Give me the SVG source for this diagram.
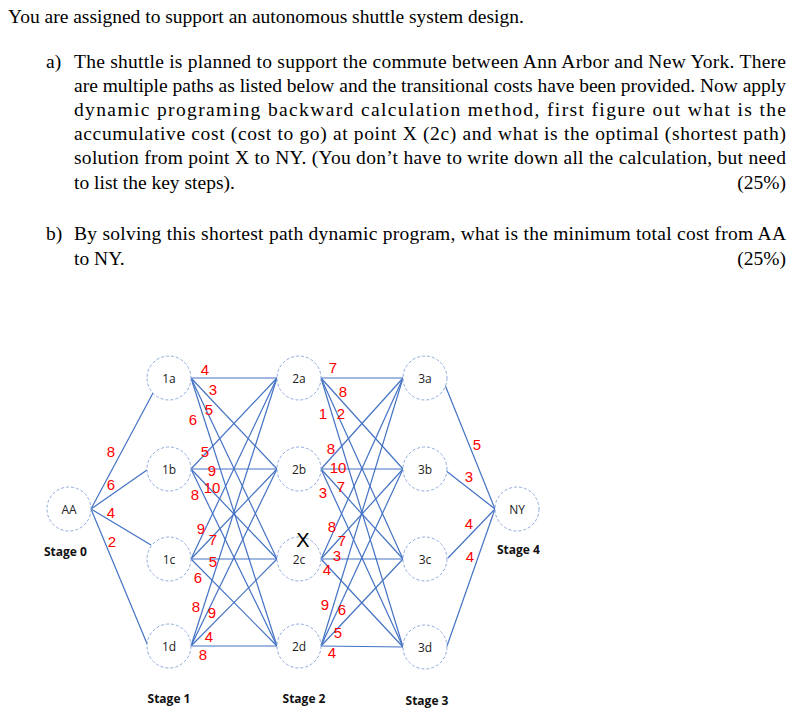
<svg xmlns="http://www.w3.org/2000/svg" width="793" height="716" viewBox="0 0 793 716">
<style>
.t{font-family:"Liberation Serif",serif;font-size:19.5px;fill:#000}
.n circle{fill:#fff;stroke:#8faadc;stroke-width:1;stroke-dasharray:3 2}
.n text{font-family:"Open Sans","DejaVu Sans",sans-serif;font-size:12px;fill:#222;text-anchor:middle}
.e line{stroke:#4472c4;stroke-width:1.2}
.w{font-family:"Liberation Sans",sans-serif;font-size:15px;fill:#ff0000;text-anchor:middle}
.s{font-family:"Open Sans","DejaVu Sans",sans-serif;font-size:12px;font-weight:bold;fill:#111}
</style>
<rect width="793" height="716" fill="#fff"/>
<text class="t" x="8" y="23">You are assigned to support an autonomous shuttle system design.</text>
<text class="t" x="46" y="68">a)</text>
<text class="t" x="74" y="68" textLength="712" lengthAdjust="spacing">The shuttle is planned to support the commute between Ann Arbor and New York. There</text>
<text class="t" x="74" y="92" textLength="712" lengthAdjust="spacing">are multiple paths as listed below and the transitional costs have been provided. Now apply</text>
<text class="t" x="74" y="116" textLength="712" lengthAdjust="spacing">dynamic programing backward calculation method, first figure out what is the</text>
<text class="t" x="74" y="140" textLength="712" lengthAdjust="spacing">accumulative cost (cost to go) at point X (2c) and what is the optimal (shortest path)</text>
<text class="t" x="74" y="164" textLength="712" lengthAdjust="spacing">solution from point X to NY. (You don’t have to write down all the calculation, but need</text>
<text class="t" x="74" y="189">to list the key steps).</text>
<text class="t" x="786" y="189" text-anchor="end">(25%)</text>
<text class="t" x="46" y="240">b)</text>
<text class="t" x="74" y="240" textLength="712" lengthAdjust="spacing">By solving this shortest path dynamic program, what is the minimum total cost from AA</text>
<text class="t" x="74" y="265">to NY.</text>
<text class="t" x="786" y="265" text-anchor="end">(25%)</text>
<g id="connectors" class="e">
<line x1="91" y1="509" x2="153" y2="393"/><line x1="91" y1="509" x2="147" y2="470"/>
<line x1="91" y1="509" x2="151" y2="545"/><line x1="91" y1="509" x2="148" y2="646"/>
<g id="s12">
<line x1="191" y1="378" x2="277" y2="378"/><line x1="191" y1="378" x2="277" y2="469"/><line x1="191" y1="378" x2="277" y2="559"/><line x1="191" y1="378" x2="277" y2="646"/>
<line x1="191" y1="469" x2="277" y2="378"/><line x1="191" y1="469" x2="277" y2="469"/><line x1="191" y1="469" x2="277" y2="559"/><line x1="191" y1="469" x2="277" y2="646"/>
<line x1="191" y1="559" x2="277" y2="378"/><line x1="191" y1="559" x2="277" y2="469"/><line x1="191" y1="559" x2="277" y2="559"/><line x1="191" y1="559" x2="277" y2="646"/>
<line x1="191" y1="646" x2="277" y2="378"/><line x1="191" y1="646" x2="277" y2="469"/><line x1="191" y1="646" x2="277" y2="559"/><line x1="191" y1="646" x2="277" y2="646"/>
</g>
<g id="s23">
<line x1="321" y1="378" x2="403" y2="378"/><line x1="321" y1="378" x2="403" y2="469"/><line x1="321" y1="378" x2="403" y2="559"/><line x1="321" y1="378" x2="403" y2="647"/>
<line x1="321" y1="469" x2="403" y2="378"/><line x1="321" y1="469" x2="403" y2="469"/><line x1="321" y1="469" x2="403" y2="559"/><line x1="321" y1="469" x2="403" y2="647"/>
<line x1="321" y1="559" x2="403" y2="378"/><line x1="321" y1="559" x2="403" y2="469"/><line x1="321" y1="559" x2="403" y2="559"/><line x1="321" y1="559" x2="403" y2="647"/>
<line x1="321" y1="646" x2="403" y2="378"/><line x1="321" y1="646" x2="403" y2="469"/><line x1="321" y1="646" x2="403" y2="559"/><line x1="321" y1="646" x2="403" y2="647"/>
</g>
<line x1="443" y1="380" x2="495" y2="509"/><line x1="445" y1="470" x2="495" y2="509"/>
<line x1="448" y1="558" x2="495" y2="509"/><line x1="447" y1="646" x2="495" y2="509"/>
</g>
<g id="AA" class="n"><circle cx="69" cy="509" r="22"/><text x="69" y="514">AA</text></g>
<g id="n1a" class="n"><circle cx="169" cy="378" r="22"/><text x="169" y="383">1a</text></g>
<g id="n1b" class="n"><circle cx="169" cy="469" r="22"/><text x="169" y="474">1b</text></g>
<g id="n1c" class="n"><circle cx="169" cy="559" r="22"/><text x="169" y="564">1c</text></g>
<g id="n1d" class="n"><circle cx="169" cy="646" r="22"/><text x="169" y="651">1d</text></g>
<g id="n2a" class="n"><circle cx="299" cy="378" r="22"/><text x="299" y="383">2a</text></g>
<g id="n2b" class="n"><circle cx="299" cy="469" r="22"/><text x="299" y="474">2b</text></g>
<g id="n2c" class="n"><circle cx="299" cy="559" r="22"/><text x="299" y="564">2c</text></g>
<g id="n2d" class="n"><circle cx="299" cy="646" r="22"/><text x="299" y="651">2d</text></g>
<g id="n3a" class="n"><circle cx="425" cy="378" r="22"/><text x="425" y="383">3a</text></g>
<g id="n3b" class="n"><circle cx="425" cy="469" r="22"/><text x="425" y="474">3b</text></g>
<g id="n3c" class="n"><circle cx="425" cy="559" r="22"/><text x="425" y="564">3c</text></g>
<g id="n3d" class="n"><circle cx="425" cy="647" r="22"/><text x="425" y="652">3d</text></g>
<g id="NY" class="n"><circle cx="517" cy="509" r="22"/><text x="517" y="514">NY</text></g>
<g id="weights">
<text class="w" x="111" y="457">8</text><text class="w" x="111" y="490">6</text><text class="w" x="111" y="518">4</text><text class="w" x="112" y="547">2</text>
<text class="w" x="205" y="375">4</text><text class="w" x="213" y="395">3</text><text class="w" x="209" y="415">5</text><text class="w" x="193" y="425">6</text>
<text class="w" x="205" y="457">5</text><text class="w" x="212" y="476">9</text><text class="w" x="212" y="493">10</text><text class="w" x="195" y="500">8</text>
<text class="w" x="201" y="534">9</text><text class="w" x="213" y="545">7</text><text class="w" x="213" y="567">5</text><text class="w" x="198" y="583">6</text>
<text class="w" x="196" y="612">8</text><text class="w" x="212" y="618">9</text><text class="w" x="209" y="642">4</text><text class="w" x="203" y="660">8</text>
<text class="w" x="333" y="373">7</text><text class="w" x="343" y="397">8</text><text class="w" x="323" y="419">1</text><text class="w" x="341" y="419">2</text>
<text class="w" x="331" y="454">8</text><text class="w" x="338" y="473">10</text><text class="w" x="341" y="492">7</text><text class="w" x="323" y="498">3</text>
<text class="w" x="332" y="532">8</text><text class="w" x="342" y="546">7</text><text class="w" x="337" y="561">3</text><text class="w" x="327" y="575">4</text>
<text class="w" x="325" y="610">9</text><text class="w" x="342" y="615">6</text><text class="w" x="338" y="638">5</text><text class="w" x="332" y="658">4</text>
<text class="w" x="477" y="450">5</text><text class="w" x="469" y="482">3</text><text class="w" x="469" y="529">4</text><text class="w" x="470" y="562">4</text>
</g>
<text x="303" y="547" font-family="Liberation Sans,sans-serif" font-size="20" text-anchor="middle" fill="#000">X</text>
<text class="s" x="44" y="556">Stage 0</text>
<text class="s" x="169" y="703" text-anchor="middle">Stage 1</text>
<text class="s" x="304" y="703" text-anchor="middle">Stage 2</text>
<text class="s" x="427" y="705" text-anchor="middle">Stage 3</text>
<text class="s" x="497" y="554">Stage 4</text>
</svg>
